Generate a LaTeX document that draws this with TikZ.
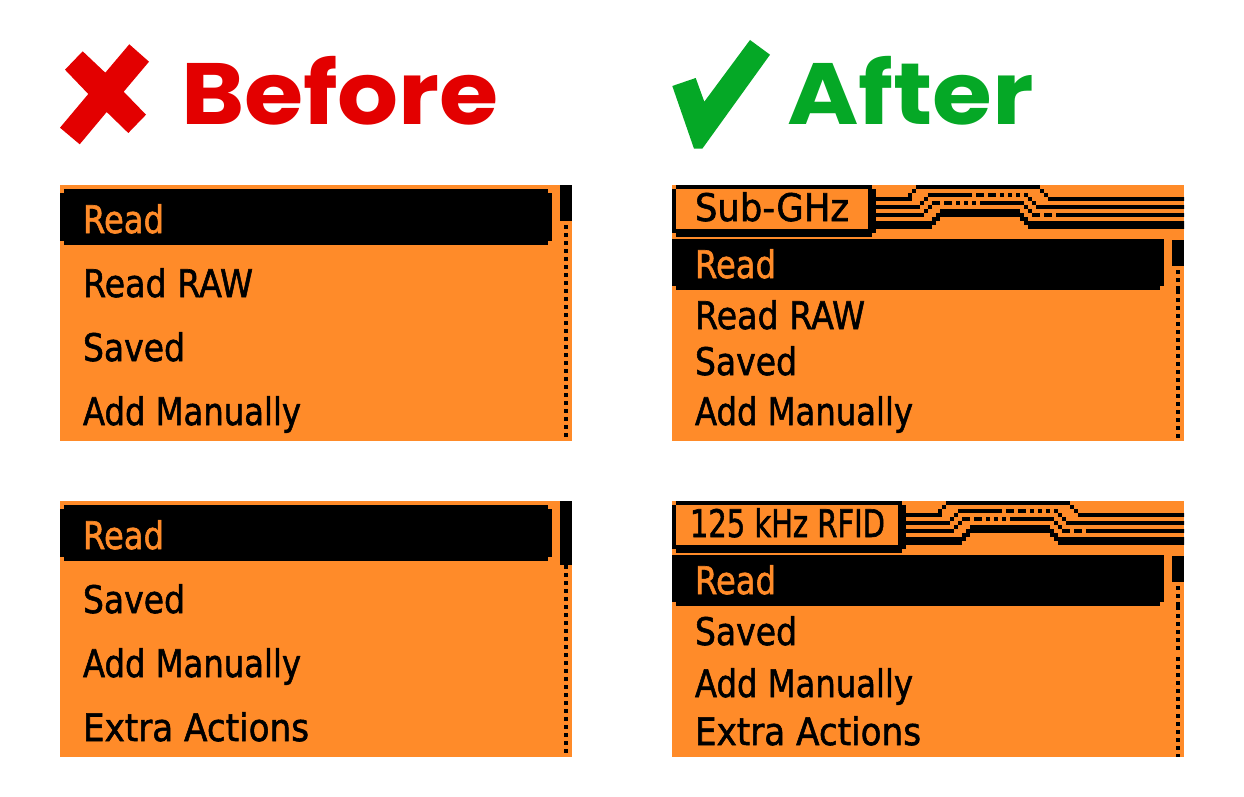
\documentclass[tikz,border=0pt]{standalone}
\usepackage{graphicx}
\usepackage{fontspec}
\setmainfont{DejaVu Sans}[RawFeature={embolden=1.6}]
\newfontfamily\headfont{Poppins}
\definecolor{flip}{HTML}{FF8B29}
\definecolor{badred}{HTML}{E30000}
\definecolor{goodgreen}{HTML}{05A826}
\newcommand{\fit}[2]{\resizebox{#1pt}{\height}{#2}}
\newcommand{\tracerows}{%
  \foreach \a/\b/\n/\h in {
    876/912/3/1, 908/912/2/1, 912/916/1/1, 916/1040/0/1, 1040/1044/1/1, 1044/1048/2/1, 1048/1300/3/1,
    876/920/5/1, 920/924/4/1, 924/928/3/1, 928/972/2/1, 976/984/2/1, 988/996/2/1, 1000/1004/2/1, 1008/1012/2/1, 1016/1020/2/1, 1024/1028/2/1, 1028/1032/3/1, 1032/1036/4/1, 1036/1300/5/1,
    876/924/7/1, 924/928/6/1, 928/932/5/1, 932/940/4/1, 944/952/4/1, 956/960/4/1, 964/968/4/1, 972/976/4/1, 980/1024/4/1, 1024/1028/5/1, 1028/1032/6/1, 1032/1040/7/1, 1044/1052/7/1, 1056/1300/7/1,
    876/932/9/2, 932/936/8/2, 936/940/7/2, 940/1020/6/2, 1020/1024/7/2, 1024/1028/8/2, 1028/1300/9/2}
  {\fill ({\a},{185+4*\n}) rectangle ({\b},{185+4*\n+4*\h});}%
}
\newcommand{\scrolldots}[3]{\foreach \k in {0,...,#3} {\fill (#1,{#2+8*\k}) rectangle ({#1+4},{#2+8*\k+4});}}
\tikzset{
  x=1pt,y=-1pt,
  menu/.style={anchor=base west,inner sep=0pt,outer sep=0pt,text=black,font=\fontsize{38}{38}\selectfont},
  sel/.style={menu,text=flip},
  head/.style={anchor=base west,inner sep=0pt,outer sep=0pt,font=\headfont\bfseries\fontsize{87}{87}\selectfont}
}
\begin{document}
\begin{tikzpicture}
\useasboundingbox (0,0) rectangle (1244,797);
\fill[white] (0,0) rectangle (1244,797);
% marks
\fill[badred] (129.3,44.3) -- (149,61.7) -- (123.7,91.7) -- (146,114.7) -- (128.3,133) -- (106.7,112) -- (79.7,144.3) -- (60,127.7) -- (88.3,94) -- (65,69.7) -- (82.7,51.3) -- (105.3,72.7) -- cycle;
\fill[goodgreen] (750,40) -- (770,54.7) -- (702.3,148.7) -- (694,148.7) -- (672.3,86) -- (695.7,78) -- (704.3,101.7) -- cycle;
\node[head,text=badred] (before) at (181,125) {\fit{318}{Before}};
\node[head,text=goodgreen] (after) at (787,125) {\fit{247}{After}};
% panels
\fill[flip] (60,185) rectangle (572,441);
\fill[flip] (60,501) rectangle (572,757);
\fill[flip] (672,185) rectangle (1184,441);
\fill[flip] (672,501) rectangle (1184,757);
% left selection bars
\foreach \o in {0,316}{
  \begin{scope}[yshift=-\o pt]
  \fill (64,189) rectangle (548,245);
  \fill (60,193) rectangle (552,241);
  \end{scope}
}
\fill (560,185) rectangle (572,221);
\scrolldots{564}{225}{26}
\fill (560,501) rectangle (572,565);
\fill (564,565) rectangle (568,569);
\scrolldots{564}{573}{22}
% right panels
\foreach \o in {0,316}{
  \begin{scope}[yshift=-\o pt]
  \fill (672,239) rectangle (1164,286);
  \fill (676,286) rectangle (1160,290);
  \fill (1172,240) rectangle (1184,266);
  \end{scope}
}
\scrolldots{1176}{270}{1}
\fill (1176,286) rectangle (1180,294);
\scrolldots{1176}{298}{17}
\scrolldots{1176}{586}{1}
\fill (1176,602) rectangle (1180,610);
\scrolldots{1176}{614}{4}
\scrolldots{1176}{657}{6}
\scrolldots{1176}{714}{4}
\fill (1176,754) rectangle (1180,757);
% title boxes
\fill (676,185) rectangle (872,237);
\fill (672,189) rectangle (876,233);
\fill[flip] (676,189) rectangle (868,229);
\fill (676,501) rectangle (902,553);
\fill (672,505) rectangle (906,549);
\fill[flip] (676,505) rectangle (898,545);
% traces
\begin{scope}
\clip (876,185) rectangle (1184,241);
\tracerows
\end{scope}
\begin{scope}
\clip (906,501) rectangle (1184,557);
\begin{scope}[xshift=30pt,yshift=-316pt]
\tracerows
\end{scope}
\end{scope}
% texts left
\node[sel]  (l1a) at (83,233) {\fit{81}{Read}};
\node[menu] (l1b) at (83,297) {\fit{170}{Read RAW}};
\node[menu] (l1c) at (83,361) {\fit{102}{Saved}};
\node[menu] (l1d) at (83,425) {\fit{218}{Add Manually}};
\node[sel]  (l2a) at (83,549) {\fit{81}{Read}};
\node[menu] (l2b) at (83,613) {\fit{102}{Saved}};
\node[menu] (l2c) at (83,677) {\fit{218}{Add Manually}};
\node[menu] (l2d) at (83,741) {\fit{226}{Extra Actions}};
% texts right
\node[menu] (t1) at (695,221) {\fit{154}{Sub-GHz}};
\node[sel]  (r1a) at (695,278) {\fit{81}{Read}};
\node[menu] (r1b) at (695,329) {\fit{170}{Read RAW}};
\node[menu] (r1c) at (695,375) {\fit{102}{Saved}};
\node[menu] (r1d) at (695,425) {\fit{218}{Add Manually}};
\node[menu] (t2) at (690,537) {\fit{195}{125 kHz RFID}};
\node[sel]  (r2a) at (695,594) {\fit{81}{Read}};
\node[menu] (r2b) at (695,645) {\fit{102}{Saved}};
\node[menu] (r2c) at (695,697) {\fit{218}{Add Manually}};
\node[menu] (r2d) at (695,745) {\fit{226}{Extra Actions}};
\end{tikzpicture}
\end{document}
